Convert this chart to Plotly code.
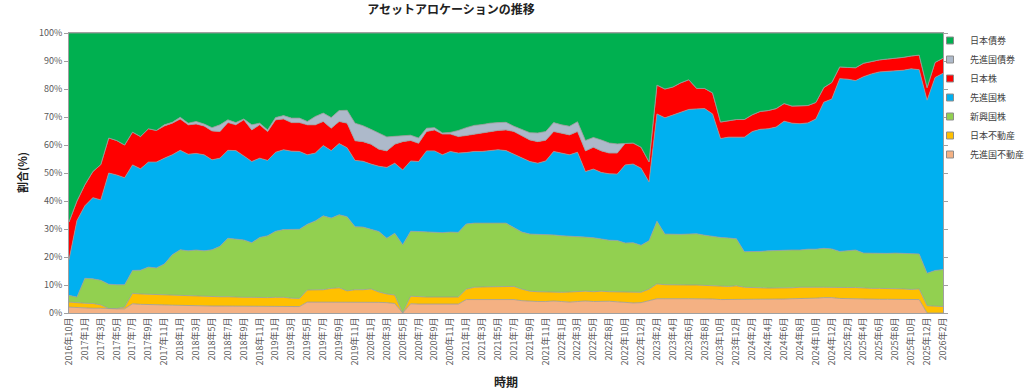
import plotly.graph_objects as go

categories = [
    "2016年10月", "2016年12月",
    "2017年1月", "2017年2月", "2017年3月", "2017年4月", "2017年5月", "2017年6月",
    "2017年7月", "2017年8月", "2017年9月", "2017年10月", "2017年11月", "2017年12月",
    "2018年1月", "2018年2月", "2018年3月", "2018年4月", "2018年5月", "2018年6月",
    "2018年7月", "2018年8月", "2018年9月", "2018年10月", "2018年11月", "2018年12月",
    "2019年1月", "2019年2月", "2019年3月", "2019年4月", "2019年5月", "2019年6月",
    "2019年7月", "2019年8月", "2019年9月", "2019年10月", "2019年11月", "2019年12月",
    "2020年1月", "2020年2月", "2020年3月", "2020年4月", "2020年5月", "2020年6月",
    "2020年7月", "2020年8月", "2020年9月", "2020年10月", "2020年11月", "2020年12月",
    "2021年1月", "2021年2月", "2021年3月", "2021年4月", "2021年5月", "2021年6月",
    "2021年7月", "2021年8月", "2021年9月", "2021年10月", "2021年11月", "2021年12月",
    "2022年1月", "2022年2月", "2022年3月", "2022年4月", "2022年5月", "2022年6月",
    "2022年8月", "2022年9月", "2022年10月", "2022年11月", "2022年12月",
    "2023年1月", "2023年2月", "2023年3月", "2023年4月", "2023年5月", "2023年6月",
    "2023年7月", "2023年8月", "2023年9月", "2023年10月", "2023年11月", "2023年12月",
    "2024年1月", "2024年2月", "2024年3月", "2024年4月", "2024年5月", "2024年6月",
    "2024年7月", "2024年8月", "2024年9月", "2024年10月", "2024年11月", "2024年12月",
    "2025年1月", "2025年2月", "2025年3月", "2025年4月", "2025年5月", "2025年6月",
    "2025年7月", "2025年8月", "2025年9月", "2025年10月", "2025年11月", "2025年12月",
    "2026年1月", "2026年2月",
]

# 先進国不動産
dev_reit = [
    2.1, 1.9, 1.8, 1.7, 1.7, 1.5, 1.5, 1.5, 3.3, 3.1,
    3.1, 3.0, 2.9, 2.8, 2.7, 2.6, 2.6, 2.6, 2.5, 2.5,
    2.5, 2.5, 2.5, 2.5, 2.5, 2.4, 2.4, 2.4, 2.3, 2.3,
    3.9, 3.9, 3.9, 4.0, 4.0, 3.9, 3.9, 3.9, 3.9, 3.8,
    3.7, 3.4, 0.0, 3.3, 3.2, 3.2, 3.2, 3.2, 3.2, 3.2,
    4.8, 4.8, 4.9, 5.0, 5.0, 5.0, 4.8, 4.4, 4.2, 4.1,
    4.1, 4.3, 4.1, 3.9, 4.1, 4.3, 4.1, 4.2, 4.2, 4.0,
    3.7, 3.6, 3.7, 4.3, 5.1, 5.1, 5.0, 5.1, 5.1, 5.1,
    5.1, 5.0, 4.8, 4.8, 5.0, 5.0, 4.9, 4.9, 4.9, 4.9,
    5.0, 5.1, 5.1, 5.2, 5.3, 5.5, 5.5, 5.2, 5.1, 5.2,
    5.0, 4.9, 4.9, 4.9, 4.9, 4.8, 4.7, 4.8, 0.0, 0.0,
    0.0,
]
# 日本不動産
jp_reit = [
    1.8, 1.7, 1.7, 1.7, 1.2, 0.1, 0.1, 0.6, 3.7, 3.7,
    3.6, 3.6, 3.5, 3.4, 3.4, 3.4, 3.4, 3.3, 3.3, 3.3,
    3.3, 3.1, 3.1, 3.1, 3.0, 3.1, 3.2, 3.2, 3.0, 2.9,
    4.3, 4.4, 4.4, 4.8, 5.0, 4.0, 4.4, 4.4, 4.7, 3.7,
    3.1, 3.0, 0.0, 2.7, 2.6, 2.5, 2.5, 2.5, 2.5, 2.5,
    3.7, 4.4, 4.4, 4.4, 4.5, 4.4, 4.7, 4.1, 3.6, 3.5,
    3.4, 3.3, 3.3, 3.6, 3.5, 3.5, 3.5, 3.6, 3.4, 3.6,
    3.7, 3.8, 3.7, 4.2, 5.3, 5.0, 5.0, 4.9, 4.9, 4.9,
    4.7, 4.6, 4.8, 4.7, 4.7, 4.2, 4.1, 4.1, 4.0, 4.0,
    3.9, 3.9, 4.1, 4.1, 3.9, 3.7, 3.6, 3.8, 4.0, 3.9,
    3.9, 3.9, 3.9, 3.9, 3.8, 3.8, 3.7, 3.8, 2.6, 2.5,
    2.3,
]
# 新興国株
em_eq = [
    2.4, 2.1, 8.9, 8.8, 8.8, 8.7, 8.5, 8.0, 8.2, 8.5,
    9.7, 9.5, 11.1, 14.6, 16.5, 16.2, 16.5, 16.3, 16.8, 18.0,
    20.9, 20.9, 20.5, 19.5, 21.5, 22.1, 23.6, 24.2, 24.5, 24.7,
    23.5, 24.6, 26.4, 25.1, 26.1, 26.5, 22.5, 22.4, 21.3, 21.6,
    19.9, 22.1, 24.4, 23.2, 23.3, 23.3, 23.2, 23.0, 23.2, 23.1,
    23.3, 22.9, 22.8, 22.7, 22.8, 22.7, 21.0, 20.4, 20.4, 20.5,
    20.6, 20.3, 20.2, 20.0, 19.6, 19.3, 19.3, 18.7, 18.4, 18.3,
    17.6, 17.7, 16.8, 17.3, 22.4, 18.1, 18.1, 18.1, 18.2, 18.3,
    18.0, 17.7, 17.4, 17.3, 16.8, 12.7, 12.9, 13.0, 13.3, 13.3,
    13.5, 13.5, 13.3, 13.5, 13.6, 13.9, 13.8, 13.0, 13.2, 13.4,
    12.5, 12.5, 12.5, 12.5, 12.7, 12.8, 12.8, 12.5, 11.6, 12.7,
    13.2,
]
# 先進国株
dev_eq = [
    12.7, 27.3, 25.9, 29.0, 28.7, 39.7, 39.2, 38.2, 37.7, 36.2,
    37.5, 37.8, 37.8, 35.7, 35.5, 34.5, 34.5, 34.3, 32.1, 31.5,
    31.4, 31.5, 30.0, 29.0, 28.3, 26.9, 28.2, 28.5, 28.0, 27.8,
    24.8, 24.2, 25.1, 24.1, 25.4, 24.6, 23.7, 23.5, 23.3, 23.3,
    25.3, 25.0, 26.7, 25.1, 25.0, 28.9, 29.0, 27.8, 28.8, 28.3,
    25.5, 25.6, 25.6, 26.0, 26.0, 25.9, 26.2, 26.6, 25.9, 25.4,
    26.2, 29.8, 29.5, 29.0, 30.2, 23.4, 24.5, 23.7, 23.7, 23.7,
    27.9, 28.1, 27.5, 21.0, 38.3, 41.5, 42.6, 43.7, 44.5, 44.6,
    45.2, 43.8, 35.3, 36.0, 36.3, 40.9, 42.9, 43.6, 43.6, 44.2,
    46.1, 45.3, 45.1, 45.1, 46.5, 52.2, 53.5, 61.7, 61.2, 60.5,
    63.0, 64.1, 64.8, 65.0, 65.0, 65.3, 66.0, 65.8, 61.8, 68.9,
    70.1,
]
# 日本株
jp_eq = [
    13.5, 7.0, 7.5, 9.3, 12.6, 12.5, 12.3, 11.7, 11.7, 11.5,
    11.9, 11.3, 11.5, 11.3, 11.2, 10.5, 10.5, 10.3, 10.3, 9.5,
    9.9, 9.2, 12.9, 11.3, 11.9, 10.3, 11.6, 11.0, 10.2, 10.3,
    10.7, 10.1, 8.6, 8.0, 7.9, 8.8, 7.0, 7.0, 7.1, 6.1,
    5.9, 6.8, 10.1, 7.3, 6.5, 6.9, 7.5, 7.4, 6.2, 5.9,
    6.1, 6.2, 6.5, 6.7, 6.9, 7.4, 8.1, 7.8, 7.7, 7.7,
    7.4, 7.1, 7.1, 7.1, 7.4, 7.4, 7.8, 7.7, 7.4, 7.5,
    7.7, 7.5, 7.5, 7.2, 10.3, 10.3, 10.0, 10.4, 10.6, 7.3,
    7.2, 7.5, 5.9, 5.9, 6.3, 6.3, 6.0, 6.4, 6.5, 6.6,
    6.3, 6.1, 6.3, 6.2, 5.9, 5.2, 5.9, 4.2, 4.2, 4.6,
    4.8, 4.4, 4.3, 4.4, 4.5, 4.6, 4.6, 5.2, 4.5, 5.4,
    5.4,
]
# 先進国債券
dev_bond = [
    0.0, 0.0, 0.0, 0.0, 0.0, 0.0, 0.0, 0.0, 0.0, 0.0,
    0.0, 0.0, 0.4, 0.3, 0.6, 0.6, 0.9, 0.7, 1.2, 2.4,
    1.0, 0.8, 0.3, 1.8, 0.6, 0.6, 0.8, 1.2, 1.6, 1.6,
    1.2, 3.0, 3.0, 3.8, 3.9, 4.6, 6.3, 5.7, 5.3, 5.8,
    5.0, 2.8, 2.0, 1.9, 1.9, 1.2, 0.8, 0.4, 0.6, 2.2,
    2.8, 3.1, 3.1, 3.0, 2.8, 2.7, 1.9, 2.2, 2.6, 3.1,
    3.1, 3.2, 3.0, 3.1, 3.5, 3.7, 3.5, 3.9, 3.6, 3.3,
    0.0, 0.0, 0.0, 0.0, 0.0, 0.0, 0.0, 0.0, 0.0, 0.0,
    0.0, 0.0, 0.0, 0.0, 0.0, 0.0, 0.0, 0.0, 0.0, 0.0,
    0.0, 0.0, 0.0, 0.0, 0.0, 0.0, 0.0, 0.0, 0.0, 0.0,
    0.0, 0.0, 0.0, 0.0, 0.0, 0.0, 0.0, 0.0, 0.0, 0.0,
    0.0,
]
# 日本債券
jp_bond = [
    67.5, 60.0, 54.2, 49.5, 47.0, 37.5, 38.4, 40.0, 35.4, 37.0,
    34.2, 34.8, 32.8, 31.9, 30.1, 32.2, 31.6, 32.5, 33.8, 32.8,
    31.0, 32.0, 30.7, 32.8, 32.2, 34.6, 30.2, 29.5, 30.4, 30.4,
    31.6, 29.8, 28.6, 30.2, 27.7, 27.6, 32.2, 33.1, 34.4, 35.7,
    37.1, 36.9, 36.8, 36.5, 37.5, 34.0, 33.8, 35.7, 35.5, 34.8,
    33.8, 33.0, 32.7, 32.2, 32.0, 31.9, 33.3, 34.5, 35.6, 35.7,
    35.2, 32.0, 32.8, 33.3, 31.7, 38.4, 37.3, 38.2, 39.3, 39.6,
    39.4, 39.3, 40.8, 46.0, 18.6, 20.0, 19.3, 17.8, 16.7, 19.8,
    19.8, 21.4, 31.8, 31.3, 30.9, 30.9, 29.2, 28.0, 27.7, 27.0,
    25.2, 26.1, 26.1, 25.9, 24.8, 19.5, 17.7, 12.1, 12.3, 12.4,
    10.8, 10.2, 9.6, 9.3, 9.1, 8.7, 8.2, 7.9, 19.5, 10.5,
    9.0,
]

tick_labels = categories[::2]

# stacking order: bottom -> top
series = [
    ("先進国不動産", dev_reit, "#F4B183"),
    ("日本不動産", jp_reit, "#FFC000"),
    ("新興国株", em_eq, "#92D050"),
    ("先進国株", dev_eq, "#00B0F0"),
    ("日本株", jp_eq, "#FF0000"),
    ("先進国債券", dev_bond, "#ADB9CA"),
    ("日本債券", jp_bond, "#00B050"),
]

FONT = "Noto Sans CJK JP, sans-serif"
fig = go.Figure()

for name, vals, color in series:
    fig.add_trace(go.Scatter(
        x=categories, y=vals, name=name, stackgroup="one", mode="lines",
        line=dict(color="#9a9a9a", width=0.8), fillcolor=color,
        showlegend=False, hoverinfo="x+y+name",
    ))

# legend entries (top -> bottom)
for name, vals, color in reversed(series):
    fig.add_trace(go.Scatter(
        x=[None], y=[None], name=name, mode="markers",
        marker=dict(symbol="square", size=7, color=color,
                    line=dict(color="#8c8c8c", width=1)),
        showlegend=True,
    ))

fig.update_layout(
    width=1024, height=389, autosize=False,
    margin=dict(l=69, r=81, t=33, b=76, autoexpand=False),
    paper_bgcolor="white", plot_bgcolor="white",
    font=dict(family=FONT, size=9, color="#595959"),
    title=dict(text="<b>アセットアロケーションの推移</b>", x=451 / 1024, xanchor="center",
               y=1 - 10 / 389, yanchor="middle",
               font=dict(family=FONT, size=12, color="#222222")),
    legend=dict(xref="container", yref="container",
                x=930 / 1024, xanchor="left", y=1 - 26 / 389, yanchor="top",
                traceorder="normal", font=dict(family=FONT, size=9, color="#404040"),
                bgcolor="rgba(0,0,0,0)", itemclick=False),
    xaxis=dict(
        type="category", categoryorder="array", categoryarray=categories,
        range=[0, len(categories) - 1],
        tickmode="array", tickvals=tick_labels, ticktext=tick_labels,
        tickangle=-90, tickfont=dict(family=FONT, size=9, color="#595959"),
        showgrid=False, zeroline=False,
        showline=True, linecolor="#a0a0a0", linewidth=1, mirror=True,
        ticks="", automargin=False,
    ),
    yaxis=dict(
        range=[0, 100], tickmode="array", tickvals=list(range(0, 101, 10)),
        ticktext=[f"{v}%" for v in range(0, 101, 10)],
        tickfont=dict(family=FONT, size=9, color="#595959"),
        showgrid=False, zeroline=False,
        showline=True, linecolor="#a0a0a0", linewidth=1, mirror="ticks",
        ticks="outside", ticklen=4, tickcolor="#a0a0a0", automargin=False,
    ),
    annotations=[
        dict(text="<b>割合(%)</b>", xref="paper", yref="paper",
             x=(22 - 69) / 874, y=0.5, xanchor="center", yanchor="middle",
             textangle=-90, showarrow=False,
             font=dict(family=FONT, size=11, color="#222222")),
        dict(text="<b>時期</b>", xref="paper", yref="paper",
             x=(506 - 69) / 874, y=(313 - 381) / 280, xanchor="center", yanchor="middle",
             showarrow=False, font=dict(family=FONT, size=12, color="#222222")),
    ],
)

fig.write_html("out.html", config={"displayModeBar": False},
               post_script="document.body.style.margin='0';")
